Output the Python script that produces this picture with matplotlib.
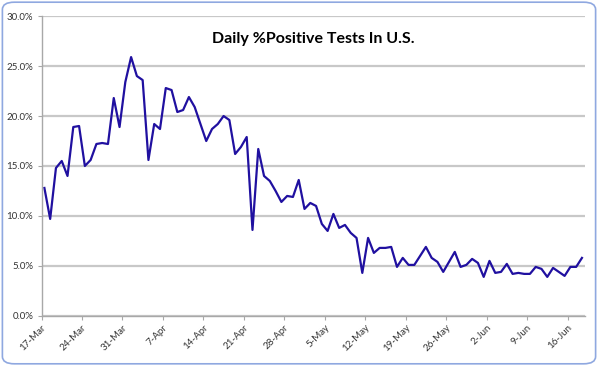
import numpy as np
import pandas as pd
import matplotlib
matplotlib.use("Agg")
import matplotlib.pyplot as plt
from matplotlib.patches import FancyBboxPatch

# daily % positive, 17-Mar .. 18-Jun
pct_positive = [
    12.8, 9.7, 14.8, 15.5, 14.0, 18.9, 19.0, 15.0, 15.6, 17.2,
    17.3, 17.2, 21.8, 18.9, 23.4, 25.9, 24.0, 23.6, 15.6, 19.2,
    18.7, 22.8, 22.6, 20.4, 20.6, 21.9, 20.9, 19.2, 17.5, 18.7,
    19.2, 20.0, 19.6, 16.2, 16.9, 17.9, 8.6, 16.7, 14.0, 13.5,
    12.5, 11.4, 12.0, 11.9, 13.6, 10.7, 11.3, 11.0, 9.2, 8.5,
    10.2, 8.8, 9.1, 8.3, 7.8, 4.3, 7.8, 6.3, 6.8, 6.8,
    6.9, 4.9, 5.8, 5.1, 5.1, 6.0, 6.9, 5.8, 5.4, 4.4,
    5.4, 6.4, 4.9, 5.1, 5.7, 5.3, 3.9, 5.5, 4.3, 4.4,
    5.2, 4.2, 4.3, 4.2, 4.2, 4.9, 4.7, 3.9, 4.8, 4.4,
    4.0, 4.9, 4.9, 5.8,
]
start_date = "2020-03-17"
dates = pd.date_range(start_date, periods=len(pct_positive), freq="D")
tick_labels = [d.strftime("%-d-%b") for d in dates[::7]]

plt.rcParams["font.family"] = ["Lato", "DejaVu Sans"]

fig = plt.figure(figsize=(5.98, 3.66), dpi=100)
ax = fig.add_axes([0.0694, 0.137, 0.9086, 0.819])

# rounded chart-area border
fig.patches.append(FancyBboxPatch((0.004, 0.006), 0.992, 0.988,
                                  boxstyle="round,pad=0,rounding_size=0.02",
                                  transform=fig.transFigure, fill=False,
                                  edgecolor="#8fa8e0", linewidth=1.2))

x = np.arange(len(pct_positive))
ax.plot(x, pct_positive, color="#2010a0", linewidth=1.6)

ax.set_xlim(-0.5, len(pct_positive) - 0.5)
ax.set_ylim(0, 30)
ax.set_yticks(np.arange(0, 31, 5))
ax.set_yticklabels([f"{v:.1f}%" for v in np.arange(0, 31, 5)])
ax.set_xticks(np.arange(0, len(pct_positive), 7) - 0.5)
ax.set_xticklabels(tick_labels, rotation=45, ha="right", rotation_mode="anchor")

ax.grid(axis="y", color="#c8c8c8", linewidth=1.6)
ax.set_axisbelow(True)
for side in ["top", "right"]:
    ax.spines[side].set_visible(False)
for side in ["left", "bottom"]:
    ax.spines[side].set_color("#a8a8a8")
    ax.spines[side].set_linewidth(1.0)
ax.tick_params(axis="both", length=3, color="#a8a8a8", labelsize=7, colors="#333333")
ax.tick_params(axis="y", pad=3)
ax.tick_params(axis="x", pad=2)

ax.text(0.5, 0.925, "Daily %Positive Tests In U.S.", transform=ax.transAxes,
        ha="center", va="center", fontsize=11.5, fontweight="bold", color="black")

plt.savefig("out.png", dpi=100)
plt.close()
